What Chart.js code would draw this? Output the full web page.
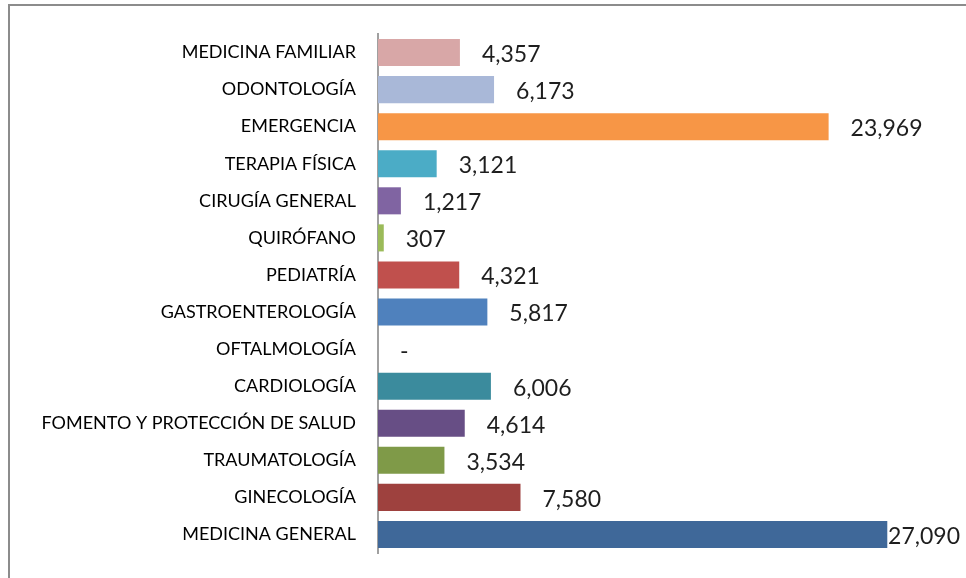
<!DOCTYPE html>
<html>
<head>
<meta charset="utf-8">
<script src="https://cdn.jsdelivr.net/npm/chart.js@4"></script>
<style>
  html, body { margin: 0; padding: 0; background: #fff; overflow: hidden; }
  #wrap { position: relative; width: 966px; height: 578px; }
  #frame {
    position: absolute; left: 8px; top: 4px; width: 2000px; height: 2000px;
    border-top: 2px solid #8c8c8c; border-left: 2px solid #8c8c8c;
    pointer-events: none;
  }
  canvas { position: absolute; left: 0; top: 0; }
</style>
</head>
<body>
<div id="wrap">
  <canvas id="chart" width="966" height="578"></canvas>
  <div id="frame"></div>
</div>
<script>
const servicios = [
  "MEDICINA FAMILIAR",
  "ODONTOLOGÍA",
  "EMERGENCIA",
  "TERAPIA FÍSICA",
  "CIRUGÍA GENERAL",
  "QUIRÓFANO",
  "PEDIATRÍA",
  "GASTROENTEROLOGÍA",
  "OFTALMOLOGÍA",
  "CARDIOLOGÍA",
  "FOMENTO Y PROTECCIÓN DE SALUD",
  "TRAUMATOLOGÍA",
  "GINECOLOGÍA",
  "MEDICINA GENERAL",
];

const atenciones = [4357, 6173, 23969, 3121, 1217, 307, 4321, 5817, 0, 6006, 4614, 3534, 7580, 27090];

const colores = [
  "#d8a7a7", "#a9b8d8", "#f79646", "#4bacc6", "#8064a2", "#9bbb59", "#c0504d",
  "#4f81bd", "#4f81bd", "#3b8b9d", "#674e85", "#7f9a48", "#9e413e", "#3f6899",
];

const X_MAX = 30000;

// numbers after each bar, "-" when the value is zero
const valueLabels = {
  id: "valueLabels",
  afterDatasetsDraw(chart) {
    const ctx = chart.ctx;
    const meta = chart.getDatasetMeta(0);
    ctx.save();
    ctx.font = "23px Lato";
    ctx.fillStyle = "#1e1e1e";
    ctx.textBaseline = "middle";
    ctx.textAlign = "left";
    meta.data.forEach((bar, i) => {
      const v = atenciones[i];
      const text = v === 0 ? "-" : v.toLocaleString("en-US");
      const w = ctx.measureText(text).width;
      let x = bar.x + 22;
      if (x + w > chart.width - 6) x = chart.width - 6 - w;
      ctx.fillText(text, x, bar.y + 2);
    });
    ctx.restore();
  },
};

new Chart(document.getElementById("chart"), {
  type: "bar",
  data: {
    labels: servicios,
    datasets: [{
      data: atenciones,
      backgroundColor: colores,
      borderWidth: 0,
      categoryPercentage: 1,
      barPercentage: 0.73,
    }],
  },
  options: {
    indexAxis: "y",
    responsive: false,
    animation: false,
    layout: { padding: { top: 34, bottom: 25, left: 0, right: 24 } },
    plugins: {
      legend: { display: false },
      tooltip: { enabled: false },
    },
    scales: {
      x: {
        display: false,
        min: 0,
        max: X_MAX,
      },
      y: {
        afterFit(scale) { scale.width = 378; },
        // tick marks only used as a gap between the labels and the axis line
        grid: { display: false, drawTicks: true, tickLength: 22, tickColor: "rgba(0,0,0,0)" },
        border: { display: true, color: "#a0a0a0", width: 2 },
        ticks: {
          padding: 0,
          color: "#000",
          font: { family: "Lato", size: 18 },
        },
      },
    },
  },
  plugins: [valueLabels],
});
</script>
</body>
</html>
